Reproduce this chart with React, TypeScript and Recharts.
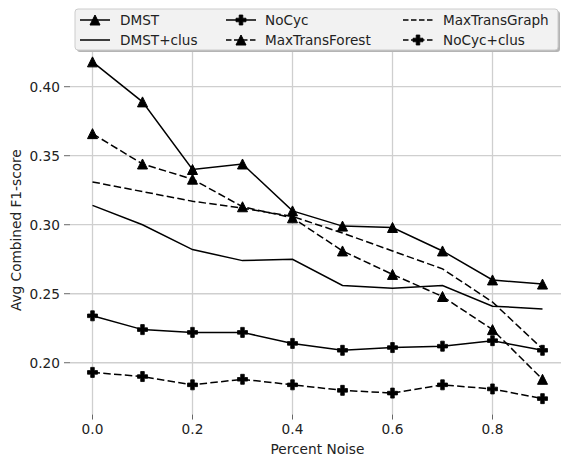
import React from 'react';
import { LineChart, Line, XAxis, YAxis, CartesianGrid, Label } from 'recharts';

const noise = [0, 0.1, 0.2, 0.3, 0.4, 0.5, 0.6, 0.7, 0.8, 0.9];
const dmst = [0.418, 0.389, 0.340, 0.344, 0.310, 0.299, 0.298, 0.281, 0.260, 0.257];
const dmstClus = [0.314, 0.300, 0.282, 0.274, 0.275, 0.256, 0.254, 0.256, 0.241, 0.239];
const noCyc = [0.234, 0.224, 0.222, 0.222, 0.214, 0.209, 0.211, 0.212, 0.216, 0.209];
const maxTransForest = [0.366, 0.344, 0.333, 0.313, 0.305, 0.281, 0.264, 0.248, 0.224, 0.188];
const maxTransGraph = [0.331, 0.324, 0.317, 0.312, 0.306, 0.294, 0.281, 0.268, 0.244, 0.210];
const noCycClus = [0.193, 0.190, 0.184, 0.188, 0.184, 0.180, 0.178, 0.184, 0.181, 0.174];

const xTicks = [0, 0.2, 0.4, 0.6, 0.8];
const yTicks = [0.2, 0.25, 0.3, 0.35, 0.4];
const xDomain: [number, number] = [-0.045, 0.945];
const yDomain: [number, number] = [0.1625, 0.4296];

type Marker = 'triangle' | 'plus' | 'none';
const seriesDefs: { key: string; name: string; values: number[]; dashed: boolean; marker: Marker }[] = [
  { key: 'dmst', name: 'DMST', values: dmst, dashed: false, marker: 'triangle' },
  { key: 'dmstClus', name: 'DMST+clus', values: dmstClus, dashed: false, marker: 'none' },
  { key: 'noCyc', name: 'NoCyc', values: noCyc, dashed: false, marker: 'plus' },
  { key: 'maxTransForest', name: 'MaxTransForest', values: maxTransForest, dashed: true, marker: 'triangle' },
  { key: 'maxTransGraph', name: 'MaxTransGraph', values: maxTransGraph, dashed: true, marker: 'none' },
  { key: 'noCycClus', name: 'NoCyc+clus', values: noCycClus, dashed: true, marker: 'plus' },
];

const data = noise.map((x, i) => {
  const row: Record<string, number> = { x };
  seriesDefs.forEach((s) => {
    row[s.key] = s.values[i];
  });
  return row;
});

const FONT = 'DejaVu Sans, sans-serif';
const DASH = '7.5 3.3';

function markerShape(marker: Marker, cx: number, cy: number, key?: string) {
  if (marker === 'triangle') {
    const r = 5;
    return (
      <polygon
        key={key}
        points={`${cx},${cy - r} ${cx - r},${cy + r} ${cx + r},${cy + r}`}
        fill="#000"
        stroke="#000"
        strokeWidth={1}
      />
    );
  }
  if (marker === 'plus') {
    const a = 5;
    const t = 1.8;
    const d = `M${cx - t},${cy - a} H${cx + t} V${cy - t} H${cx + a} V${cy + t} H${cx + t} V${cy + a} H${cx - t} V${cy + t} H${cx - a} V${cy - t} H${cx - t} Z`;
    return <path key={key} d={d} fill="#000" stroke="#000" strokeWidth={0.8} />;
  }
  return <g key={key} />;
}

function LegendBox() {
  const cols = [
    { hx: 80, tx: 120 },
    { hx: 226, tx: 265 },
    { hx: 403, tx: 443 },
  ];
  const rows = [20, 40];
  return (
    <div style={{ position: 'absolute', left: 0, top: 0, width: 561, height: 70, pointerEvents: 'none' }}>
      <svg width={561} height={70} style={{ position: 'absolute', left: 0, top: 0 }}>
        <rect x={77} y={11} width={483} height={41} rx={3} fill="#b4b4b4" />
        <rect x={75} y={9} width={483} height={41} rx={3} fill="#f2f2f2" stroke="#cccccc" strokeWidth={1} />
        {seriesDefs.map((s, i) => {
          const col = cols[Math.floor(i / 2)];
          const y = rows[i % 2];
          return (
            <g key={s.key}>
              <line
                x1={col.hx}
                x2={col.hx + 30}
                y1={y}
                y2={y}
                stroke="#000"
                strokeWidth={1.5}
                strokeDasharray={s.dashed ? '5.5 2.5' : undefined}
              />
              {markerShape(s.marker, col.hx + 15, y)}
              <text x={col.tx} y={y} dominantBaseline="central" fontFamily={FONT} fontSize={13.6} fill="#222">
                {s.name}
              </text>
            </g>
          );
        })}
      </svg>
    </div>
  );
}

function gridX(p: any): number[] {
  const o = p && p.offset ? p.offset : { left: 70, width: 495 };
  return xTicks.map((t) => o.left + ((t - xDomain[0]) / (xDomain[1] - xDomain[0])) * o.width);
}
function gridY(p: any): number[] {
  const o = p && p.offset ? p.offset : { top: 45.85, height: 368.65 };
  return yTicks.map((t) => o.top + ((yDomain[1] - t) / (yDomain[1] - yDomain[0])) * o.height);
}

export default function App() {
  return (
    <div style={{ position: 'absolute', left: 0, top: 0, width: 561, height: 457, overflow: 'hidden', background: '#fff' }}>
      <LineChart width={575} height={457} data={data} margin={{ top: 45.85, right: 10, bottom: 0, left: 0 }}>
        <CartesianGrid
          stroke="#cfcfcf"
          strokeWidth={1.3}
          verticalCoordinatesGenerator={gridX}
          horizontalCoordinatesGenerator={gridY}
        />
        <XAxis
          dataKey="x"
          type="number"
          domain={xDomain}
          ticks={xTicks}
          allowDataOverflow
          tickFormatter={(v: number) => v.toFixed(1)}
          axisLine={false}
          tickLine={{ stroke: '#666', strokeWidth: 1 }}
          tickSize={5}
          tickMargin={5}
          height={42.5}
          tick={{ fontSize: 13.7, fill: '#222', fontFamily: FONT }}
        >
          <Label
            content={(p: any) => {
              const vb = p.viewBox || {};
              return (
                <text
                  x={vb.x + vb.width / 2}
                  y={449}
                  textAnchor="middle"
                  dominantBaseline="central"
                  fontFamily={FONT}
                  fontSize={13.7}
                  fill="#222"
                >
                  Percent Noise
                </text>
              );
            }}
          />
        </XAxis>
        <YAxis
          type="number"
          domain={yDomain}
          ticks={yTicks}
          allowDataOverflow
          tickFormatter={(v: number) => v.toFixed(2)}
          axisLine={false}
          tickLine={{ stroke: '#666', strokeWidth: 1 }}
          tickSize={6}
          tickMargin={4}
          width={70}
          tick={{ fontSize: 13.7, fill: '#222', fontFamily: FONT }}
        >
          <Label
            content={(p: any) => {
              const vb = p.viewBox || {};
              const cx = 16;
              const cy = vb.y + vb.height / 2;
              return (
                <text
                  x={cx}
                  y={cy}
                  transform={`rotate(-90, ${cx}, ${cy})`}
                  textAnchor="middle"
                  dominantBaseline="central"
                  fontFamily={FONT}
                  fontSize={13.7}
                  fill="#222"
                >
                  Avg Combined F1-score
                </text>
              );
            }}
          />
        </YAxis>
        {seriesDefs.map((s) => (
          <Line
            key={s.key}
            dataKey={s.key}
            name={s.name}
            type="linear"
            stroke="#000"
            strokeWidth={1.5}
            strokeDasharray={s.dashed ? DASH : undefined}
            isAnimationActive={false}
            dot={
              s.marker === 'none'
                ? false
                : (props: any) => markerShape(s.marker, props.cx, props.cy, `${s.key}-${props.index}`)
            }
            activeDot={false}
          />
        ))}
      </LineChart>
      <LegendBox />
    </div>
  );
}
